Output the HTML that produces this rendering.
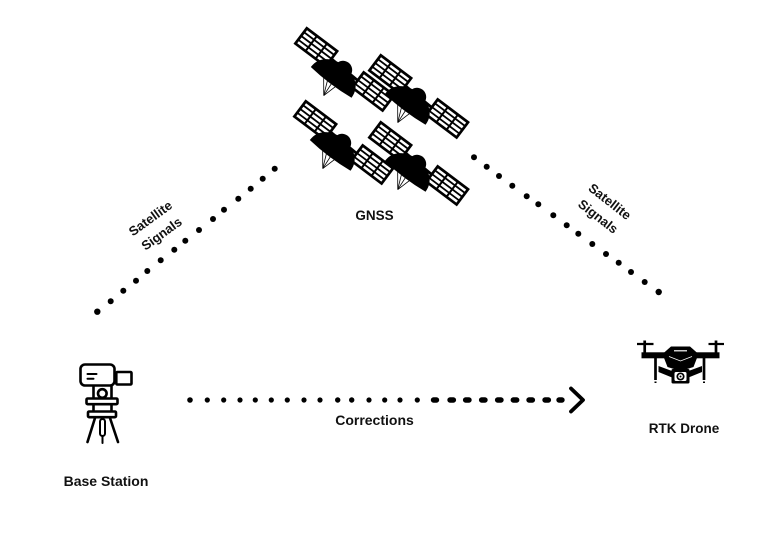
<!DOCTYPE html>
<html>
<head>
<meta charset="utf-8">
<style>
  html, body { margin: 0; padding: 0; background: #ffffff; }
  body { width: 765px; height: 536px; overflow: hidden; }
  svg { display: block; }
  .lbl { font-family: "Liberation Sans", sans-serif; font-weight: bold; fill: #111; }
</style>
</head>
<body>
<svg width="765" height="536" viewBox="0 0 765 536" xmlns="http://www.w3.org/2000/svg">
  <rect x="0" y="0" width="765" height="536" fill="#ffffff"/>
  <defs>
    <g id="panel">
      <rect x="0" y="0" width="38" height="19" fill="#fff" stroke="#000" stroke-width="2.7"/>
      <line x1="0" y1="4.8" x2="38" y2="4.8" stroke="#000" stroke-width="1.8"/>
      <line x1="0" y1="9.5" x2="38" y2="9.5" stroke="#000" stroke-width="1.8"/>
      <line x1="0" y1="14.2" x2="38" y2="14.2" stroke="#000" stroke-width="1.8"/>
      <line x1="12.7" y1="0" x2="12.7" y2="19" stroke="#000" stroke-width="2"/>
      <line x1="25.3" y1="0" x2="25.3" y2="19" stroke="#000" stroke-width="2"/>
    </g>
    <g id="sat">
      <line x1="-17" y1="-2" x2="19" y2="-0.5" stroke="#000" stroke-width="2.8"/>
      <use href="#panel" transform="translate(-54,-11.5)"/>
      <use href="#panel" transform="translate(18,-10.5)"/>
      <path d="M-27.5,17 C-27.5,2 -14,-4 -2,-4 C10,-4 23.5,2 23.5,17 Q-2,20 -27.5,17 Z" fill="#000"/>
      <circle cx="0" cy="0" r="9.2" fill="#000"/>
      <g stroke="#000" stroke-width="0.8" fill="none">
        <line x1="-11" y1="17.5" x2="0" y2="32"/>
        <line x1="-6" y1="18" x2="0" y2="32"/>
        <line x1="-1" y1="18" x2="0" y2="32"/>
        <line x1="4" y1="17.5" x2="0" y2="32"/>
      </g>
    </g>
  </defs>

  <!-- Satellites -->
  <use href="#sat" transform="translate(343,70) rotate(37)"/>
  <use href="#sat" transform="translate(417,97) rotate(37)"/>
  <use href="#sat" transform="translate(342,143) rotate(37)"/>
  <use href="#sat" transform="translate(417,164) rotate(37)"/>

  <text class="lbl" x="374.5" y="220" font-size="13.5" text-anchor="middle">GNSS</text>

  <!-- Left dotted signal line -->
  <g fill="#000">
    <circle cx="97.3" cy="311.7" r="3.2"/>
    <circle cx="110.7" cy="301.3" r="3"/>
    <circle cx="123.3" cy="290.7" r="3"/>
    <circle cx="136" cy="280.7" r="3"/>
    <circle cx="147.3" cy="271" r="3"/>
    <circle cx="160.7" cy="260.3" r="3"/>
    <circle cx="174.3" cy="249.7" r="3"/>
    <circle cx="185.3" cy="240.7" r="3"/>
    <circle cx="199" cy="230" r="3"/>
    <circle cx="213" cy="219" r="3"/>
    <circle cx="224" cy="209.7" r="3"/>
    <circle cx="238.3" cy="198.7" r="3"/>
    <circle cx="250.7" cy="188.7" r="3"/>
    <circle cx="262.7" cy="178.7" r="3"/>
    <circle cx="274.7" cy="168.7" r="3"/>
  </g>

  <!-- Right dotted signal line -->
  <g fill="#000">
    <circle cx="474" cy="157.3" r="3"/>
    <circle cx="486.7" cy="166.7" r="3"/>
    <circle cx="499" cy="176" r="3"/>
    <circle cx="512.3" cy="185.7" r="3"/>
    <circle cx="526.7" cy="196.3" r="3"/>
    <circle cx="538.3" cy="204.3" r="3"/>
    <circle cx="553.3" cy="215.3" r="3"/>
    <circle cx="566.7" cy="225.3" r="3"/>
    <circle cx="578.3" cy="233.7" r="3"/>
    <circle cx="592.3" cy="244" r="3"/>
    <circle cx="606" cy="254" r="3"/>
    <circle cx="618.7" cy="262.7" r="3"/>
    <circle cx="631" cy="272" r="3"/>
    <circle cx="644.7" cy="282" r="3"/>
    <circle cx="658.7" cy="292" r="3.2"/>
  </g>

  <!-- Rotated labels -->
  <g transform="translate(156,226) rotate(-36)">
    <text class="lbl" x="0" y="-5" font-size="13" text-anchor="middle">Satellite</text>
    <text class="lbl" x="0" y="14" font-size="13" text-anchor="middle">Signals</text>
  </g>
  <g transform="translate(604,209) rotate(38)">
    <text class="lbl" x="0" y="-5" font-size="13" text-anchor="middle">Satellite</text>
    <text class="lbl" x="0" y="14" font-size="13" text-anchor="middle">Signals</text>
  </g>

  <!-- Corrections line -->
  <g fill="#000">
    <circle cx="190" cy="400" r="2.8"/>
    <circle cx="207.3" cy="400" r="2.6"/>
    <circle cx="223.7" cy="400" r="2.6"/>
    <circle cx="240" cy="400" r="2.6"/>
    <circle cx="255.3" cy="400" r="2.6"/>
    <circle cx="271.3" cy="400" r="2.6"/>
    <circle cx="287.3" cy="400" r="2.6"/>
    <circle cx="304" cy="400" r="2.6"/>
    <circle cx="320" cy="400" r="2.6"/>
    <circle cx="337.7" cy="400" r="2.7"/>
    <circle cx="351.7" cy="400" r="2.7"/>
    <circle cx="369" cy="400" r="2.6"/>
    <circle cx="384.7" cy="400" r="2.6"/>
    <circle cx="400" cy="400" r="2.6"/>
    <circle cx="417.3" cy="400" r="2.6"/>
  </g>
  <g stroke="#000" stroke-width="5.4" stroke-linecap="round">
    <line x1="433.5" y1="400" x2="436.5" y2="400"/>
    <line x1="450" y1="400" x2="453.4" y2="400"/>
    <line x1="465.6" y1="400" x2="469" y2="400"/>
    <line x1="481.6" y1="400" x2="485" y2="400"/>
    <line x1="497.6" y1="400" x2="501" y2="400"/>
    <line x1="513.3" y1="400" x2="516.7" y2="400"/>
    <line x1="529" y1="400" x2="532.4" y2="400"/>
    <line x1="545" y1="400" x2="548.4" y2="400"/>
    <line x1="559" y1="400" x2="562" y2="400"/>
  </g>
  <polyline points="571,388.5 583,400 571,411.5" fill="none" stroke="#000" stroke-width="3.8" stroke-linecap="round" stroke-linejoin="round"/>

  <text class="lbl" x="374.5" y="425" font-size="14" text-anchor="middle">Corrections</text>

  <!-- Base station (theodolite) icon -->
  <g fill="none" stroke="#000" stroke-width="2.6" stroke-linecap="round" stroke-linejoin="round">
    <rect x="80.5" y="364.5" width="34" height="21" rx="4.5" fill="#fff"/>
    <rect x="116.3" y="372" width="15.2" height="12.5" rx="1" fill="#fff"/>
    <line x1="87.5" y1="374" x2="96.5" y2="374" stroke-width="2"/>
    <line x1="87.5" y1="378.7" x2="93.5" y2="378.7" stroke-width="2"/>
    <line x1="93.5" y1="386" x2="93.5" y2="398"/>
    <line x1="111.5" y1="386" x2="111.5" y2="398"/>
    <circle cx="102.3" cy="393.5" r="4.3" fill="#fff"/>
    <rect x="86.5" y="398.5" width="31" height="5.7" rx="1.2" fill="#fff"/>
    <line x1="93.5" y1="404.5" x2="93.5" y2="411"/>
    <line x1="111.5" y1="404.5" x2="111.5" y2="411"/>
    <rect x="88" y="411.5" width="28" height="5.7" rx="1.2" fill="#fff"/>
    <line x1="95" y1="418" x2="87.5" y2="442"/>
    <line x1="110" y1="418" x2="118" y2="442"/>
    <rect x="100" y="419" width="5" height="17" rx="2.5" stroke-width="2"/>
    <line x1="102.5" y1="436" x2="102.5" y2="443" stroke-width="2"/>
  </g>
  <text class="lbl" x="106" y="486" font-size="14" text-anchor="middle">Base Station</text>

  <!-- Drone icon -->
  <g>
    <line x1="637" y1="344" x2="653.5" y2="344" stroke="#000" stroke-width="2.2"/>
    <line x1="644.7" y1="340.5" x2="644.7" y2="353" stroke="#000" stroke-width="2.7"/>
    <line x1="708.5" y1="344" x2="724" y2="344" stroke="#000" stroke-width="2.2"/>
    <line x1="716" y1="340.5" x2="716" y2="353" stroke="#000" stroke-width="2.7"/>
    <rect x="641.5" y="352.3" width="78" height="6" fill="#000"/>
    <polygon points="671,346.5 690,346.5 698.5,354 693.5,367 680.5,371 667.5,367 662.5,354" fill="#000"/>
    <line x1="674" y1="350.8" x2="687" y2="350.8" stroke="#fff" stroke-width="1.2"/>
    <polyline points="669,356.5 680.5,361 692,356.5" fill="none" stroke="#fff" stroke-width="0.8"/>
    <line x1="655.5" y1="358" x2="655.5" y2="380" stroke="#000" stroke-width="2.7"/>
    <line x1="655.5" y1="381.5" x2="655.5" y2="383" stroke="#000" stroke-width="2"/>
    <line x1="704" y1="358" x2="704" y2="380" stroke="#000" stroke-width="2.7"/>
    <line x1="704" y1="381.5" x2="704" y2="383" stroke="#000" stroke-width="2"/>
    <polygon points="658.5,366 672,371 672,377.5 658.5,372" fill="#000"/>
    <polygon points="702,366 688.5,371 688.5,377.5 702,372" fill="#000"/>
    <rect x="671.5" y="369" width="18" height="14.5" rx="1.5" fill="#000"/>
    <rect x="674.5" y="372" width="12" height="9" rx="1.5" fill="#fff"/>
    <circle cx="680.5" cy="376.5" r="3.2" fill="#fff" stroke="#000" stroke-width="1.7"/>
    <circle cx="680.5" cy="376.5" r="1" fill="#000"/>
  </g>
  <text class="lbl" x="684" y="433" font-size="13.5" text-anchor="middle">RTK Drone</text>
</svg>
</body>
</html>
